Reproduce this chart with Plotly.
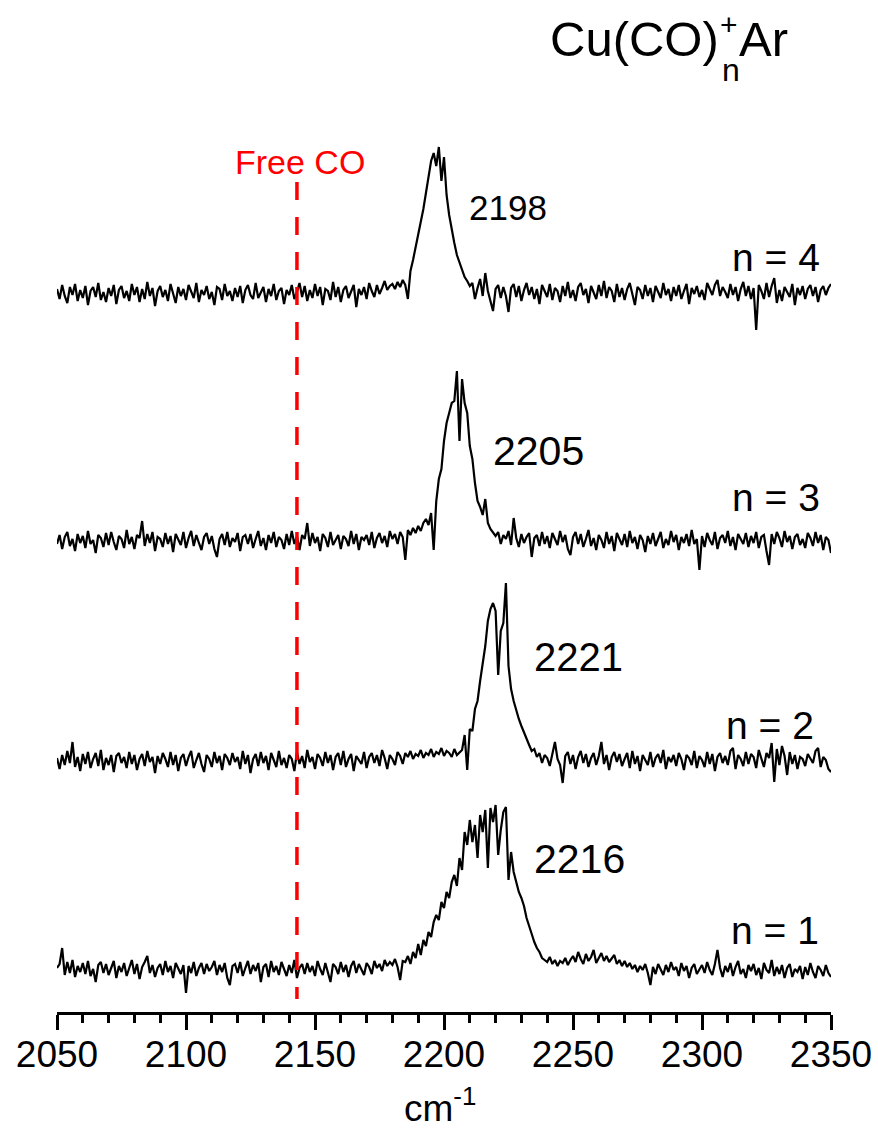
import plotly.graph_objects as go

# ---------------- data ----------------
wavenumber = list(range(2050, 2351))  # cm-1, 1 cm-1 step

n4 = [4, -6, 8, -3, -10, 6, -2, 9, -8, 3,
      -5, 7, -12, 2, 6, -4, 10, -7, 1, -9,
      5, -3, 8, -11, 3, 7, -5, 2, -8, 9,
      -2, 6, -9, 4, -6, 11, -3, 5, -13, 2,
      7, -4, 3, -8, 9, -1, -10, 6, -3, 4,
      -7, 8, 2, -5, 10, -9, 3, -2, 7, -6,
      1, -12, 6, 4, -7, 9, -3, 2, -8, 5,
      -4, 7, -10, 3, 8, -2, -6, 10, -5, 1,
      6, -9, 4, -3, 9, -7, 2, 5, -11, 3,
      -2, 8, -6, 1, 10, -4, 7, -8, 3, -5,
      9, -3, 6, -12, 4, 2, -7, 11, -4, 6,
      -9, 3, 7, -5, 1, 8, -14, 4, -2, 6,
      -6, 10, 2, -4, 8, -1, 5, 12, 3, 7,
      9, 4, 11, 6, 13, 8, -6, 22, 33, 45,
      58, 70, 84, 100, 117, 132, 140, 127, 146, 112,
      136, 98, 78, 62, 50, 38, 30, 22, 16, 12,
      7, 10, -6, 5, 14, -3, 20, 2, -9, -18,
      4, 8, -5, 6, -3, -19, 5, 9, -4, 7,
      -8, 3, 10, -2, 6, -6, 4, -11, 8, 1,
      -4, 9, -7, 5, 2, -9, 7, -3, 11, -5,
      3, -8, 6, 10, -2, 4, -10, 7, 1, -6,
      8, -3, 12, -5, 6, 2, -9, 9, -4, 5,
      -7, 4, 10, -2, -12, 6, 3, -6, 8, -3,
      5, -9, 7, 1, -5, 10, -2, 4, -8, 6,
      -3, 8, -6, 2, 9, -11, 5, -1, 7, -4,
      3, -7, 10, 4, -2, 8, 13, -3, 6, 1,
      -5, 9, -2, 6, -8, 4, 11, -3, 7, -6,
      5, -37, 8, 2, -6, 10, -4, 7, 15, -10,
      3, -8, 6, 1, -4, 9, -12, 5, -2, 7,
      -6, 4, 8, -3, 6, -9, 3, 7, -2, 5,
      9]

n3 = [-3, 6, -8, 4, 9, -5, 2, -10, 7, -2,
      5, -7, 10, -3, 1, -12, 6, 3, -6, 8,
      -4, 9, -1, -9, 5, 2, -7, 11, -3, 4,
      -8, 6, 3, 20, -5, 7, -2, 9, -10, 4,
      2, -6, 8, -3, 5, -11, 7, 1, -4, 9,
      -7, 3, 10, -5, 6, -2, -9, 4, 8, -3,
      5, -8, -16, 2, 7, -4, 9, -6, 3, -1,
      8, -10, 4, 6, -3, 7, -7, 2, 10, -5,
      3, -9, 6, -2, 9, -6, 4, 1, -8, 7,
      -4, 10, -3, 5, -9, 6, 2, 18, -5, 8,
      -2, 4, -10, 7, 3, -6, 9, -4, 1, 6,
      -8, 5, 2, -5, 10, -3, 7, -9, 4, 1,
      6, -4, 9, -7, 3, 8, -2, 5, -6, 10,
      2, 7, -3, 9, 4, -19, 11, 6, 13, 8,
      15, 10, 18, 22, 16, 28, -9, 40, 62, 72,
      100, 118, 128, 138, 140, 170, 100, 162, 138, 128,
      95, 82, 58, 40, 34, 26, 42, 18, 12, 8,
      5, 9, -3, 6, 2, 10, -4, 23, 3, -6,
      7, -2, 4, 8, -16, 3, 6, -5, 9, -3,
      5, -7, 8, 2, -4, 10, -1, 6, -8, -14,
      4, 9, -3, 7, -6, 2, 11, -5, 3, -9,
      6, 1, -7, 9, -3, 5, -10, 8, 2, -4,
      7, -6, 10, -2, 4, -8, 6, 1, -11, 5,
      -3, 8, -5, 3, 9, -7, 2, -4, 10, -1,
      6, -9, 4, -2, 7, -5, 11, -3, 2, -29,
      5, -6, 8, 1, -4, 9, -8, 3, 6, -2,
      10, -5, 4, -9, 7, 2, -3, 8, -6, 5,
      -2, 9, -7, 4, 6, -10, -24, 7, -3, 9,
      3, -6, 10, -1, 5, -8, 4, 7, -4, 2,
      -7, 8, 3, -5, 9, -2, 6, -9, 4, 1,
      -12]

n2 = [3, -8, 6, -4, 10, -2, 19, -6, 4, -10,
      7, -3, 9, -7, 2, 8, -5, 11, -9, 3,
      -4, 6, -11, 5, 8, -2, 4, -7, 9, -3,
      6, -9, 2, 7, -5, 10, -1, 4, -12, 5,
      -3, 8, 2, -6, 9, -4, 6, -10, 3, 7,
      -5, 4, 10, -7, 1, 8, -3, -11, 6, 2,
      -6, 9, -2, 5, -9, 7, 3, -4, 8, -1,
      4, -8, 10, -3, 6, -12, 2, 7, -5, 9,
      -2, 5, -9, 8, 1, -6, 10, -4, 3, -7,
      6, 2, -10, 9, -3, 5, -7, 11, -1, 4,
      -8, 7, 3, -5, 9, -2, 6, -9, 4, 8,
      -4, 10, -6, 2, 7, -10, 5, 1, -3, 9,
      -7, 4, 8, -2, 6, -5, 11, 3, -8, 6,
      2, -4, 9, 5, -3, 8, 4, 10, 2, 7,
      5, 11, 3, 8, 6, 12, 4, 9, 7, 13,
      5, 10, 8, 4, 12, 6, 9, 11, 26, -9,
      32, 30, 52, 60, 80, 98, 115, 140, 152, 158,
      150, 86, 130, 138, 178, 95, 72, 60, 50, 42,
      35, 28, 22, 16, 10, 12, 4, 8, -2, 6,
      3, -5, 7, 19, 2, -4, -22, 5, 9, -3,
      6, -8, 4, 10, -2, 7, -6, 3, 8, -4,
      5, 19, -3, 6, -9, 4, 9, -1, 7, -5,
      2, 8, -7, 10, -3, 5, -10, 6, 1, -4,
      9, -6, 3, 7, -2, 11, -8, 4, -1, 6,
      -5, 8, 2, -9, 6, 3, -4, 10, -7, 5,
      1, -6, 9, -3, 7, -10, 4, 8, -2, 5,
      -4, 10, 13, -8, 6, 2, -5, 9, -3, 7,
      4, -7, 11, 1, -6, 8, 3, 18, -21, 12,
      -4, 15, 5, -14, 9, -3, 6, -8, 4, 2,
      -5, 7, 3, -2, 10, 13, -6, 4, 1, -8,
      -11]

n1 = [2, 6, 22, -5, 8, -3, 10, -7, 4, -2,
      7, -4, 9, -6, 1, -12, 5, 8, -3, 6,
      -5, 3, 9, -8, 4, -2, 7, -6, 2, 10,
      -4, 6, -9, 3, 8, 14, -3, 5, -7, 2,
      6, -5, 9, -2, 4, -8, 7, 1, -4, 5,
      -23, 4, -3, 8, -6, 2, 7, -4, 6, -1,
      3, 9, -5, 5, -2, 7, -8, -15, 4, 6,
      -3, 8, -6, 2, 9, -4, 5, -1, 7, -12,
      3, 6, -7, 9, -2, 4, -5, 8, 1, -6,
      5, -3, 10, -8, 2, 6, -4, 7, -2, 4,
      -6, 9, 1, -5, 7, -3, -12, 6, 3, -4,
      8, -2, 5, -7, 4, 9, -3, 6, 1, -5,
      7, 3, -4, 9, 2, 6, -1, 10, 4, 8,
      5, 11, 3, -10, 9, 8, 14, 6, 18, 12,
      26, 15, 30, 24, 38, 33, 48, 55, 50, 68,
      62, 78, 72, 88, 95, 84, 112, 100, 138, 125,
      150, 128, 145, 112, 155, 138, 160, 102, 162, 148,
      165, 115, 140, 158, 163, 90, 118, 98, 88, 78,
      72, 64, 52, 45, 36, 28, 22, 18, 12, 10,
      8, 13, 6, 10, 4, 9, 7, 12, 5, 10,
      14, 8, 18, 11, 6, 16, 9, 13, 20, 7,
      12, 17, 9, 14, 8, 11, 15, 6, 10, 4,
      9, 3, 7, 1, 5, -2, 4, 0, 6, -3,
      -15, 3, -4, 6, 1, -5, 5, -2, 8, 0,
      3, -6, 7, -1, 4, -8, 2, 6, -4, 1,
      5, -3, 8, 0, -5, 6, 20, 2, -7, 4,
      -2, 7, -6, 3, 9, -4, 1, -8, 5, -1,
      6, -5, 2, -9, 7, 0, -3, 10, -6, 3,
      -4, 5, -8, 2, 6, -7, 1, -2, 4, -9,
      3, -5, 7, -2, -8, 4, 0, -6, 5, -3,
      -7]

series_names = ["n = 4", "n = 3", "n = 2", "n = 1"]
peak_labels = ["2198", "2205", "2221", "2216"]
free_co = 2143
x_ticks = [2050, 2100, 2150, 2200, 2250, 2300, 2350]

# ---------------- layout helpers ----------------
W, H = 878, 1134
ML, MR, MT, MB = 57, 47, 0, 122
PW, PH = W - ML - MR, H - MT - MB


def px(xp):
    return (xp - ML) / PW


def py(yp):
    return (MT + PH - yp) / PH


offsets = [719, 471, 251, 42]  # vertical stacking (in plot units = px)
series = [n4, n3, n2, n1]

fig = go.Figure()
for name, s, off in zip(series_names, series, offsets):
    fig.add_trace(go.Scatter(
        x=wavenumber, y=[v + off for v in s], mode="lines", name=name,
        line=dict(color="black", width=2.2), showlegend=False,
        hoverinfo="skip"))

# red dashed free-CO line
fig.add_shape(type="line", xref="x", yref="paper",
              x0=free_co, x1=free_co, y0=py(182), y1=py(999),
              line=dict(color="#ff0000", width=3.5, dash="18px,17px"))

FONT = "Arial, Liberation Sans, sans-serif"
ann = []


def add_text(text, xc, yc, size, color="black", xanchor="center"):
    ann.append(dict(text=text, x=px(xc), y=py(yc), xref="paper", yref="paper",
                    xanchor=xanchor, yanchor="middle", showarrow=False,
                    font=dict(family=FONT, size=size, color=color)))


add_text("Free CO", 300, 162, 34, color="#ff0000")
label_pos = [(776, 258), (776, 497), (770, 725), (775, 930)]
for t, (xc, yc) in zip(series_names, label_pos):
    add_text(t, xc, yc, 39)
peak_pos = [(508, 207, 35), (538, 451, 41), (578, 657, 40), (579, 859, 41)]
for t, (xc, yc, sz) in zip(peak_labels, peak_pos):
    add_text(t, xc, yc, sz)

# title Cu(CO)n+Ar with stacked sub/superscript
add_text("Cu(CO)", 721, 39, 49, xanchor="right")
add_text("Ar", 737, 39, 49, xanchor="left")
add_text("+", 729, 25, 30)
add_text("n", 731, 70, 32)

# x-axis title
add_text("cm<sup>-1</sup>", 440, 1105, 37)

fig.update_layout(
    width=W, height=H,
    margin=dict(l=ML, r=MR, t=MT, b=MB),
    paper_bgcolor="white", plot_bgcolor="white",
    annotations=ann,
    xaxis=dict(range=[2050, 2350], tickvals=x_ticks,
               ticks="outside", ticklen=15, tickwidth=2.5, tickcolor="black",
               showline=True, linewidth=2.5, linecolor="black",
               showgrid=False, zeroline=False, ticklabelstandoff=-7,
               tickfont=dict(family=FONT, size=37, color="black"),
               minor=dict(dtick=10, tick0=2050, ticks="outside", ticklen=8,
                          tickwidth=2.5, tickcolor="black", showgrid=False)),
    yaxis=dict(range=[0, PH], visible=False, showgrid=False, zeroline=False),
)

fig.write_html("out.html")
